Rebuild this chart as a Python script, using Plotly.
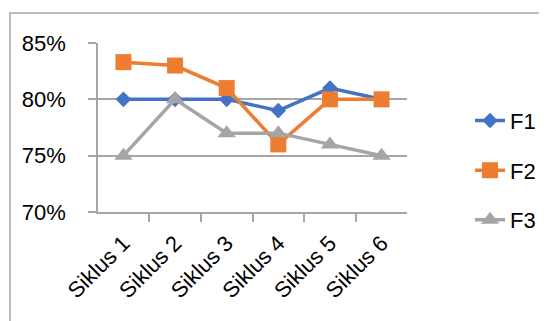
import plotly.graph_objects as go

categories = ["Siklus 1", "Siklus 2", "Siklus 3", "Siklus 4", "Siklus 5", "Siklus 6"]
f1 = [0.80, 0.80, 0.80, 0.79, 0.81, 0.80]
f2 = [0.833, 0.83, 0.81, 0.76, 0.80, 0.80]
f3 = [0.75, 0.80, 0.77, 0.77, 0.76, 0.75]
series_names = ["F1", "F2", "F3"]

FONT = "Liberation Sans, Arial, sans-serif"
GRID = "#A6A6A6"

# plot area: 309 x 169 px
PW, PH = 309, 169

fig = go.Figure()
styles = [
    ("#4472C4", "diamond", 12),
    ("#ED7D31", "square", 16),
    ("#A5A5A5", "triangle-up", 16),
]
for name, vals, (col, sym, sz) in zip(series_names, [f1, f2, f3], styles):
    fig.add_trace(go.Scatter(
        x=categories, y=vals, name=name, mode="lines+markers",
        line=dict(color=col, width=3.5),
        marker=dict(symbol=sym, size=sz, color=col),
        legendgroup=name,
        cliponaxis=False,
    ))

fig.update_layout(
    width=547, height=321,
    margin=dict(l=90, r=148, t=35, b=117, autoexpand=False),
    paper_bgcolor="white", plot_bgcolor="white",
    font=dict(family=FONT, size=22, color="#000000"),
    showlegend=True,
    legend=dict(
        x=1.204, xanchor="left", y=0.247, yanchor="middle",
        font=dict(size=22), tracegroupgap=18,
        bgcolor="rgba(0,0,0,0)", itemwidth=30,
    ),
    shapes=[
        dict(type="rect", xref="paper", yref="paper",
             x0=-88 / PW, x1=700 / PW, y0=-400 / PH, y1=1 + 30 / PH,
             line=dict(color=GRID, width=1.5), fillcolor="rgba(0,0,0,0)", layer="below"),
    ],
)
fig.update_xaxes(
    type="category", tickangle=-45, showgrid=False,
    showline=True, linecolor=GRID, linewidth=1.5,
    ticks="outside", ticklen=8, tickcolor=GRID, tickwidth=1.5,
    tickson="boundaries", ticklabelstandoff=8, automargin=False,
    tickfont=dict(size=22, family=FONT),
)
fig.update_yaxes(
    range=[0.70, 0.85], dtick=0.05, tickformat=".0%",
    showgrid=True, gridcolor=GRID, gridwidth=1.5,
    showline=True, linecolor=GRID, linewidth=1.5,
    ticks="outside", ticklen=8, tickcolor=GRID, tickwidth=1.5,
    ticklabelstandoff=18, zeroline=False, automargin=False,
    tickfont=dict(size=22, family=FONT),
)

fig.write_html("out.html")
